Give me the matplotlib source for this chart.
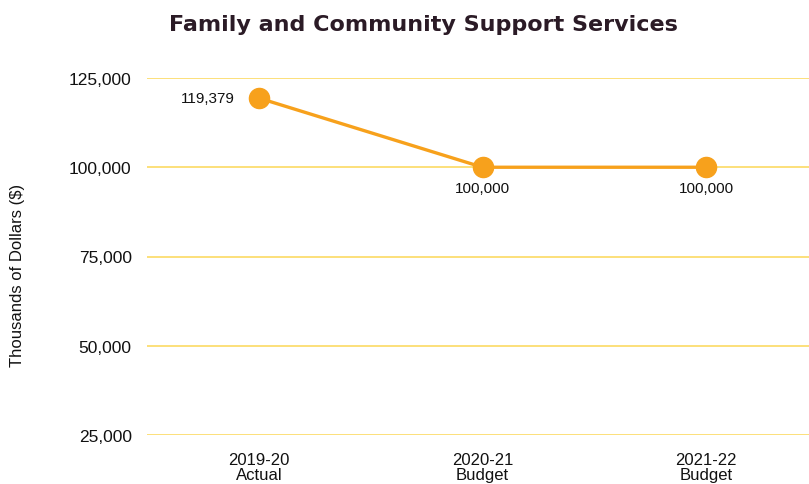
import matplotlib
matplotlib.use("Agg")
import matplotlib.pyplot as plt
from matplotlib.ticker import FuncFormatter

categories = ["2019-20\nActual", "2020-21\nBudget", "2021-22\nBudget"]
values = [119379, 100000, 100000]
yticks = [25000, 50000, 75000, 100000, 125000]

line_color = "#F7A11C"
grid_color = "#FCE07A"
text_color = "#111111"

fig = plt.figure(figsize=(8.09, 4.85), dpi=100)
ax = fig.add_axes([147/809, 1-436/485, 671/809, (436-79)/485])

x = list(range(len(categories)))
ax.plot(x, values, color=line_color, lw=2.4, marker="o", markersize=14.5,
        markerfacecolor=line_color, markeredgecolor=line_color, clip_on=False, zorder=3)

ax.set_xlim(-0.5, 2.5)
ax.set_ylim(25000, 125000)
ax.set_yticks(yticks)
ax.yaxis.set_major_formatter(FuncFormatter(lambda v, p: f"{int(v):,}"))
ax.set_xticks(x)
ax.set_xticklabels(categories, fontsize=12, family="Liberation Sans", color=text_color, linespacing=1.05)
for lab in ax.get_yticklabels():
    lab.set_fontsize(12.5)
    lab.set_family("Liberation Sans")
    lab.set_color(text_color)
ax.tick_params(axis="both", length=0)
ax.tick_params(axis="y", pad=11)
ax.tick_params(axis="x", pad=12)
ax.grid(axis="y", color=grid_color, lw=1.4)
ax.set_axisbelow(True)
for s in ax.spines.values():
    s.set_visible(False)

for i, v in enumerate(values):
    if i == 0:
        ax.annotate(f"{v:,}", (i, v), xytext=(-17, 0), textcoords="offset points",
                    ha="right", va="center", fontsize=11, family="Liberation Sans", color=text_color)
    else:
        ax.annotate(f"{v:,}", (i, v), xytext=(0, -15), textcoords="offset points",
                    ha="center", va="center", fontsize=11, family="Liberation Sans", color=text_color)

fig.text(18/809, 1-275/485, "Thousands of Dollars ($)", rotation=90, ha="center", va="center",
         fontsize=12, family="Liberation Sans", color=text_color)
fig.text(423/809, 1-25/485, "Family and Community Support Services", ha="center", va="center",
         fontsize=16, fontweight="bold", family="DejaVu Sans", color="#2B1B26")

fig.savefig("out.png", dpi=100)
